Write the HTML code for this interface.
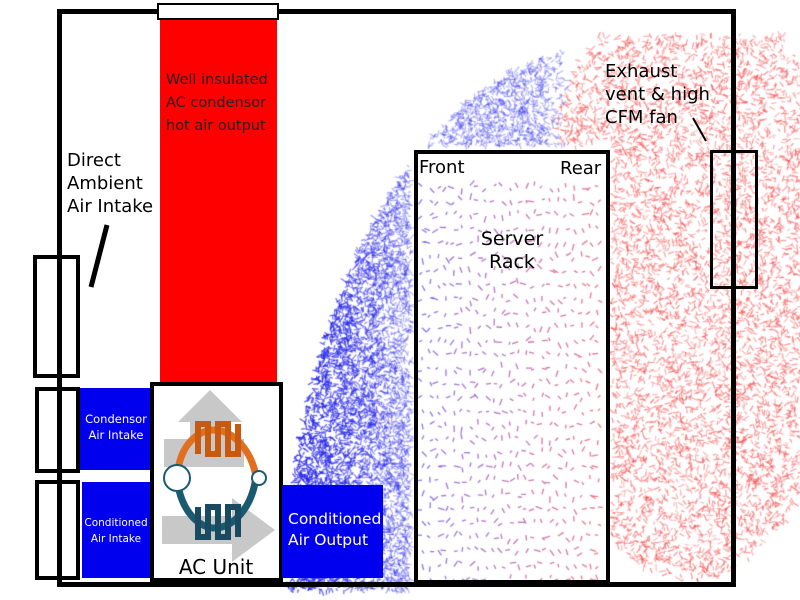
<!DOCTYPE html>
<html><head><meta charset="utf-8"><style>
html,body{margin:0;padding:0;background:#fff}
#w{position:relative;width:800px;height:600px;overflow:hidden;font-family:"DejaVu Sans","Liberation Sans",sans-serif}
canvas{position:absolute;left:0;top:0}
.a{position:absolute;box-sizing:border-box}
.t{position:absolute;color:#000}
</style></head><body><div id="w">
<canvas id="c" width="800" height="600"></canvas>
<div class="a" style="left:57px;top:9px;width:679px;height:578px;border:5px solid #000"></div>
<div class="a" style="left:160px;top:18px;width:117px;height:366px;background:#f00"></div>
<div class="a" style="left:157px;top:3px;width:122px;height:17px;background:#fff;border:2px solid #000"></div>
<div class="t" style="left:166px;top:69px;font-size:14.5px;line-height:23px;color:#222">Well insulated<br>AC condensor<br>hot air output</div>
<div class="t" style="left:67px;top:149px;font-size:18px;line-height:23px">Direct<br>Ambient<br>Air Intake</div>
<svg class="a" style="left:0;top:0" width="800" height="600"><line x1="107" y1="225" x2="91" y2="287" stroke="#000" stroke-width="5"/><line x1="693" y1="118" x2="706" y2="141" stroke="#000" stroke-width="2"/></svg>
<div class="a" style="left:33px;top:255px;width:47px;height:123px;border:4px solid #000"></div>
<div class="a" style="left:80px;top:388px;width:70px;height:82px;background:#0000ee"></div>
<div class="a" style="left:82px;top:482px;width:68px;height:96px;background:#0000ee"></div>
<div class="a" style="left:35px;top:387px;width:45px;height:86px;border:4px solid #000"></div>
<div class="a" style="left:35px;top:480px;width:45px;height:100px;border:4px solid #000"></div>
<div class="a" style="left:57px;top:240px;width:5px;height:347px;background:#000"></div>
<div class="t" style="left:80px;top:411px;font-size:11.5px;line-height:16px;color:#fff;width:72px;text-align:center">Condensor<br>Air Intake</div>
<div class="t" style="left:80px;top:515px;font-size:10.5px;line-height:16px;color:#fff;width:72px;text-align:center">Conditioned<br>Air Intake</div>
<div class="a" style="left:150px;top:382px;width:133px;height:200px;border:4px solid #000;background:#fff"></div>
<svg class="a" style="left:150px;top:382px" width="133" height="200">
<polygon points="60,8 92,40 80,40 80,80 40,80 40,40 28,40" fill="#c8c8c8"/>
<rect x="14" y="57" width="80" height="28" fill="#c8c8c8"/>
<polygon points="12,134 82,134 82,116 125,148 82,180 82,162 12,162" fill="#c8c8c8"/>
<path d="M27,95 C30,60 50,48 64,48 C84,48 102,70 106,95" stroke="#e07020" stroke-width="7" fill="none"/>
<path d="M27,95 C30,130 50,146 64,146 C84,146 102,125 106,95" stroke="#1a5a70" stroke-width="7" fill="none"/>
<path d="M48,72 v-30 h10 v30 h10 v-30 h10 v30 h10 v-30" stroke="#c85a10" stroke-width="6" fill="none"/>
<path d="M48,125 v30 h10 v-30 h10 v30 h10 v-30 h10 v30" stroke="#1a4a60" stroke-width="6" fill="none"/>
<circle cx="27" cy="96" r="13" fill="#fff" stroke="#1a5a70" stroke-width="2"/>
<circle cx="109" cy="96" r="7" fill="#fff" stroke="#1a5a70" stroke-width="2"/>
<text x="66" y="192" font-size="20" text-anchor="middle" font-family="DejaVu Sans,Liberation Sans,sans-serif">AC Unit</text>
</svg>
<div class="a" style="left:282px;top:485px;width:101px;height:93px;background:#0000ee"></div>
<div class="t" style="left:288px;top:509px;font-size:15.5px;line-height:21px;color:#fff">Conditioned<br>Air Output</div>
<div class="a" style="left:414px;top:150px;width:196px;height:434px;border:4px solid #000"></div>
<div class="t" style="left:419px;top:157px;font-size:18px">Front</div>
<div class="t" style="left:560px;top:158px;font-size:18px">Rear</div>
<div class="t" style="left:462px;top:228px;font-size:19px;line-height:23px;text-align:center;width:100px">Server<br>Rack</div>
<div class="t" style="left:605px;top:60px;font-size:18px;line-height:23px">Exhaust<br>vent &amp; high<br>CFM fan</div>
<div class="a" style="left:710px;top:150px;width:48px;height:139px;border:3px solid #000"></div>
</div>
<script>
var c=document.getElementById('c').getContext('2d');var s=7;function r(){s=(s*16807)%2147483647;return s/2147483647;}
c.lineWidth=1.3;
function seg(x,y,col){var a=r()*Math.PI*2,l=3+r()*4;c.strokeStyle=col;c.beginPath();c.moveTo(x,y);c.lineTo(x+Math.cos(a)*l,y+Math.sin(a)*l);c.stroke();}
function inRack(x,y){return x>410&&x<612&&y>146;}
for(var i=0;i<26000;i++){var x=280+r()*320,y=40+r()*550;var dx=(x-610)/325,dy=(y-610)/565;var d=dx*dx+dy*dy;if(d>1)continue;if(inRack(x,y))continue;if(x>565&&y<200)continue;if(x<288)continue;if(x>545&&y<150&&r()<0.6)continue;var al=0.3+0.5*Math.min(1,Math.max(0,(410-x)/110))*(y>150?1:0.7);seg(x,y,'rgba(40,40,235,'+al+')');}
for(var i=0;i<7500;i++){var x=555+r()*245,y=35+r()*550;var dx=(x-690)/160,dy=(y-280)/300;if(dx*dx+dy*dy>1)continue;if(inRack(x,y))continue;seg(x,y,'rgba(245,70,70,'+(0.3+r()*0.3)+')');}
for(var y=185;y<580;y+=14){for(var x=422;x<600;x+=8){var f=(x-420)/185;var col='rgba('+Math.round(90+150*f)+',60,'+Math.round(230-150*f)+',0.7)';seg(x,y+r()*4,col);}}
</script>
</body></html>
